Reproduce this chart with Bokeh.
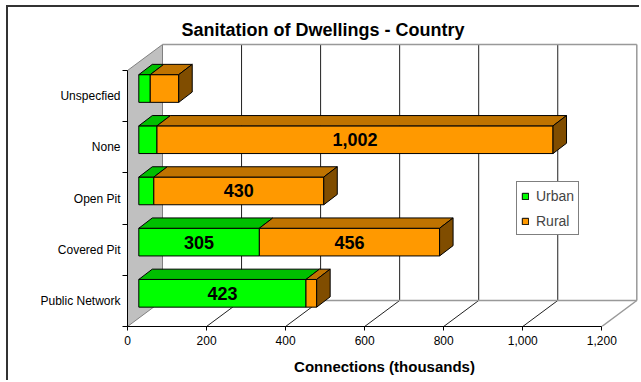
from bokeh.plotting import figure
from bokeh.models import (Range1d, FixedTicker, NumeralTickFormatter, Legend,
                          LegendItem, ColumnDataSource)
from bokeh.core.properties import value
from bokeh.embed import file_html
from bokeh.resources import INLINE

# Connections by sanitation type (thousands)
categories = ["Public Network", "Covered Pit", "Open Pit", "None", "Unspecfied"]
urban = [423, 305, 38, 46, 29]
rural = [27, 456, 430, 1002, 72]
x_ticks = [0, 200, 400, 600, 800, 1000, 1200]

FONT = "Liberation Sans"
GREEN, GREEN_TOP = "#00FF00", "#00BF00"
ORANGE, ORANGE_TOP, ORANGE_SIDE = "#FF9900", "#BF7300", "#804D00"

# page geometry in pixels; the chart sits inside a framed box
PAGE_W, PAGE_H = 641, 382
BOX_X, BOX_Y = 8, 7          # left/top offset of the framed chart area
W, H = PAGE_W - BOX_X, PAGE_H - BOX_Y
FRAME_L, FRAME_R, FRAME_T, FRAME_B = 127 - BOX_X, PAGE_W - BOX_X, 40 - BOX_Y, 326 - BOX_Y
PX_PER_UNIT = 474.3 / 1200.0
PX_PER_BAND = 51.2

x_end = (FRAME_R - FRAME_L) / PX_PER_UNIT
y_end = (FRAME_B - FRAME_T) / PX_PER_BAND


def ux(px):
    return px / PX_PER_UNIT


def uy(px):
    return px / PX_PER_BAND


# depth of the 3-D box and of the bars inside it
DEPTH_X, DEPTH_Y = ux(35), uy(26)
FRONT_X, FRONT_Y = ux(11.3), uy(7.6)
BAR_X, BAR_Y = ux(13.5), uy(10.3)
BAR_H = uy(27.7)

n = len(categories)
centers = [i + 0.5 for i in range(n)]
x_max = x_ticks[-1]

p = figure(width=W, height=H, x_range=Range1d(0, x_end), y_range=Range1d(0, y_end),
           min_border_left=FRAME_L, min_border_right=W - FRAME_R,
           min_border_top=FRAME_T, min_border_bottom=H - FRAME_B,
           output_backend="svg", toolbar_location=None,
           title="Sanitation of Dwellings - Country")
p.background_fill_color = "white"
p.border_fill_color = "white"
p.outline_line_color = None
p.xgrid.visible = False
p.ygrid.visible = False
p.styles = {"margin-left": "6px", "margin-top": "5px",
            "border-left": "2px solid #333333", "border-top": "2px solid #333333"}

p.title.text_font = FONT
p.title.text_font_size = "18px"
p.title.text_font_style = "bold"
p.title.text_color = "black"
p.title.align = "left"
p.title.offset = 54
p.title.standoff = 1

# left side wall
p.patch([0, DEPTH_X, DEPTH_X, 0], [0, DEPTH_Y, n + DEPTH_Y, n],
        fill_color="#C0C0C0", line_color="#808080", line_width=1)

# back wall gridlines and floor lines
inner = x_ticks[1:-1]
p.segment(x0=[v + DEPTH_X for v in inner], y0=[DEPTH_Y] * len(inner),
          x1=[v + DEPTH_X for v in inner], y1=[n + DEPTH_Y] * len(inner),
          line_color="#202020", line_width=1)
p.segment(x0=inner, y0=[0] * len(inner),
          x1=[v + DEPTH_X for v in inner], y1=[DEPTH_Y] * len(inner),
          line_color="#202020", line_width=1)
# outer edges of the box
p.segment(x0=[DEPTH_X, x_max + DEPTH_X, DEPTH_X, x_max],
          y0=[n + DEPTH_Y, DEPTH_Y, DEPTH_Y, 0],
          x1=[x_max + DEPTH_X, x_max + DEPTH_X, x_max + DEPTH_X, x_max + DEPTH_X],
          y1=[n + DEPTH_Y, n + DEPTH_Y, DEPTH_Y, DEPTH_Y],
          line_color="#999999", line_width=1.5)


def box_faces(left, right):
    bottom = [c - BAR_H / 2 + FRONT_Y for c in centers]
    top = [c + BAR_H / 2 + FRONT_Y for c in centers]
    l = [v + FRONT_X for v in left]
    r = [v + FRONT_X for v in right]
    front = ColumnDataSource(dict(left=l, right=r, bottom=bottom, top=top))
    top_xs = [[a, b, b + BAR_X, a + BAR_X] for a, b in zip(l, r)]
    top_ys = [[t, t, t + BAR_Y, t + BAR_Y] for t in top]
    side_xs = [[b, b + BAR_X, b + BAR_X, b] for b in r]
    side_ys = [[lo, lo + BAR_Y, hi + BAR_Y, hi] for lo, hi in zip(bottom, top)]
    return front, (top_xs, top_ys), (side_xs, side_ys)


total = [u + r for u, r in zip(urban, rural)]
u_front, u_top, _ = box_faces([0] * n, urban)
r_front, r_top, r_side = box_faces(urban, total)

urban_rend = p.quad(left="left", right="right", bottom="bottom", top="top", source=u_front,
                    fill_color=GREEN, line_color="black", line_width=1)
p.patches(u_top[0], u_top[1], fill_color=GREEN_TOP, line_color="black", line_width=1)
rural_rend = p.quad(left="left", right="right", bottom="bottom", top="top", source=r_front,
                    fill_color=ORANGE, line_color="black", line_width=1)
p.patches(r_top[0], r_top[1], fill_color=ORANGE_TOP, line_color="black", line_width=1)
p.patches(r_side[0], r_side[1], fill_color=ORANGE_SIDE, line_color="black", line_width=1)

# value labels on the larger segments
lab_x, lab_y, lab_t = [], [], []
for c, u, r in zip(centers, urban, rural):
    if u > 100:
        lab_x.append(u / 2 + FRONT_X)
        lab_y.append(c + FRONT_Y)
        lab_t.append(f"{u:,}")
    if r > 100:
        lab_x.append(u + r / 2 + FRONT_X)
        lab_y.append(c + FRONT_Y)
        lab_t.append(f"{r:,}")
p.text(x=lab_x, y=lab_y, text=lab_t, text_font=value(FONT), text_font_style="bold",
       text_font_size="18px", text_align="center", text_baseline="middle", text_color="black")

# axes
xa = p.xaxis[0]
xa.ticker = FixedTicker(ticks=x_ticks)
xa.formatter = NumeralTickFormatter(format="0,0")
xa.bounds = (0, x_max)
xa.major_tick_out = 4
xa.major_tick_in = 0
xa.minor_tick_out = 0
xa.minor_tick_in = 0
xa.axis_line_color = "black"
xa.major_tick_line_color = "black"
xa.major_label_text_font = FONT
xa.major_label_text_font_size = "12px"
xa.major_label_text_color = "black"
xa.major_label_standoff = 5
xa.axis_label = "Connections (thousands)"
xa.axis_label_text_font = FONT
xa.axis_label_text_font_size = "15px"
xa.axis_label_text_font_style = "bold"
xa.axis_label_text_color = "black"
xa.axis_label_standoff = 10

ya = p.yaxis[0]
ya.ticker = FixedTicker(ticks=centers, minor_ticks=list(range(n + 1)))
ya.major_label_overrides = {c: name for c, name in zip(centers, categories)}
ya.bounds = (0, n)
ya.major_tick_out = 0
ya.major_tick_in = 0
ya.minor_tick_out = 5
ya.minor_tick_in = 0
ya.minor_tick_line_color = "black"
ya.axis_line_color = "black"
ya.major_label_text_font = FONT
ya.major_label_text_font_size = "12px"
ya.major_label_text_color = "black"
ya.major_label_standoff = 2

legend = Legend(items=[LegendItem(label="Urban", renderers=[urban_rend]),
                       LegendItem(label="Rural", renderers=[rural_rend])],
                location=(389, 91), glyph_width=8, glyph_height=8,
                label_text_font=FONT, label_text_font_size="14px",
                label_height=19, label_standoff=7, padding=4, spacing=6, margin=0,
                border_line_color="black", border_line_width=1,
                background_fill_color="white", background_fill_alpha=1)
p.add_layout(legend)

open("out.html", "w").write(file_html(p, INLINE))
